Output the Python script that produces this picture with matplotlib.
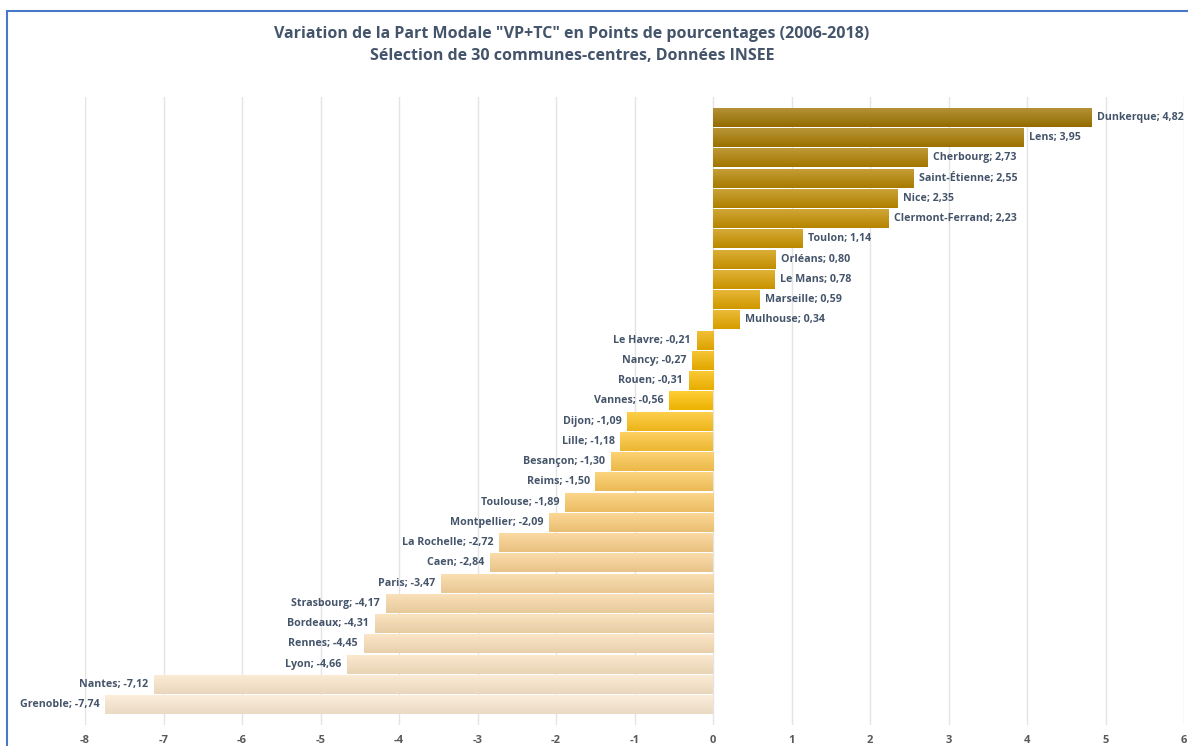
import matplotlib
matplotlib.use("Agg")
import matplotlib.pyplot as plt
import matplotlib.patches as mpatches
from matplotlib.colors import LinearSegmentedColormap, to_rgb
import numpy as np

communes = ["Dunkerque", "Lens", "Cherbourg", "Saint-Étienne", "Nice", "Clermont-Ferrand",
            "Toulon", "Orléans", "Le Mans", "Marseille", "Mulhouse", "Le Havre", "Nancy",
            "Rouen", "Vannes", "Dijon", "Lille", "Besançon", "Reims", "Toulouse",
            "Montpellier", "La Rochelle", "Caen", "Paris", "Strasbourg", "Bordeaux",
            "Rennes", "Lyon", "Nantes", "Grenoble"]
values = [4.82, 3.95, 2.73, 2.55, 2.35, 2.23, 1.14, 0.80, 0.78, 0.59, 0.34, -0.21, -0.27,
          -0.31, -0.56, -1.09, -1.18, -1.30, -1.50, -1.89, -2.09, -2.72, -2.84, -3.47,
          -4.17, -4.31, -4.45, -4.66, -7.12, -7.74]
xticks = [-8, -7, -6, -5, -4, -3, -2, -1, 0, 1, 2, 3, 4, 5, 6]

title = 'Variation de la Part Modale "VP+TC" en Points de pourcentages (2006-2018)\nSélection de 30 communes-centres, Données INSEE'

FONT = ["Open Sans", "DejaVu Sans"]
TXT = "#44546A"

cmap = LinearSegmentedColormap.from_list(
    "gold",
    [(0.0, "#A07400"), (0.35, "#E8AA00"), (0.48, "#FFC000"), (0.58, "#FDC64A"),
     (0.72, "#FBCF88"), (0.86, "#F9DCB0"), (1.0, "#FCEAD2")])

fig = plt.figure(figsize=(11.88, 7.46), dpi=100)
fig.patch.set_facecolor("white")
ax = fig.add_axes([85 / 1188, 1 - 725 / 746, (1184 - 85) / 1188, (725 - 97) / 746])

n = len(values)
ypos = np.arange(n)
bars = ax.barh(ypos, values, height=0.94, color="none", edgecolor="none", zorder=2)

for i, (b, v) in enumerate(zip(bars, values)):
    base = np.array(to_rgb(cmap(i / (n - 1))))
    top = base + (1 - base) * 0.22
    bot = base * 0.93
    t = np.linspace(0, 1, 20)[:, None]
    grad = top[None, :] * (1 - t) + bot[None, :] * t
    img = grad[:, None, :].repeat(2, axis=1)
    x0, x1 = sorted([b.get_x(), b.get_x() + b.get_width()])
    y0, y1 = b.get_y(), b.get_y() + b.get_height()
    im = ax.imshow(img, extent=(x0, x1, y1, y0), aspect="auto", zorder=2,
                   interpolation="bilinear")
    im.set_clip_path(b)
    label = f"{communes[i]}; {v:.2f}".replace(".", ",")
    if v >= 0:
        ax.annotate(label, (v, i), xytext=(4, 0), textcoords="offset points",
                    ha="left", va="center", fontsize=7.7, color=TXT,
                    fontweight="bold", family=FONT)
    else:
        ax.annotate(label, (v, i), xytext=(-4, 0), textcoords="offset points",
                    ha="right", va="center", fontsize=7.7, color=TXT,
                    fontweight="bold", family=FONT)

ax.set_xlim(-8, 6)
ax.set_ylim(n, -1.0)
ax.set_xticks(xticks)
ax.set_xticklabels([str(x) for x in xticks], family=FONT, fontsize=8,
                   fontweight="bold", color="#595959")
ax.set_yticks([])
ax.tick_params(axis="x", length=0, pad=7)
ax.grid(axis="x", color="#E4E4E4", linewidth=1, zorder=0)
ax.set_axisbelow(True)
for s in ax.spines.values():
    s.set_visible(False)

fig.text(572 / 1188, 1 - 45 / 746, title, ha="center", va="center", fontsize=11.5,
         fontweight="bold", color=TXT, family=FONT, linespacing=1.45)

border = mpatches.Rectangle((6.5 / 1188, -0.05), 1.2, 1 - 10.5 / 746 + 0.05,
                            transform=fig.transFigure, fill=False,
                            edgecolor="#4A78C8", linewidth=1.5, clip_on=False)
fig.add_artist(border)

fig.savefig("out.png", dpi=100)
